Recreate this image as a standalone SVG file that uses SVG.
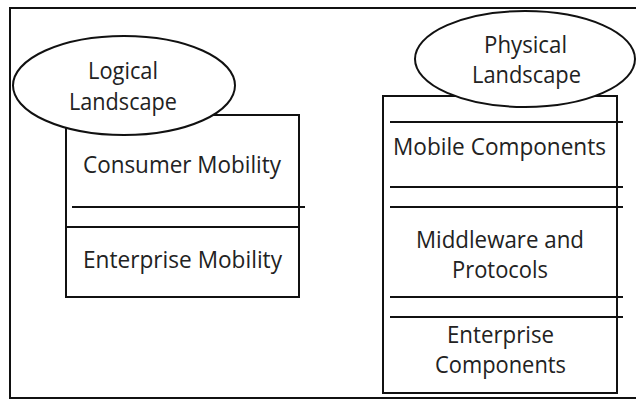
<svg xmlns="http://www.w3.org/2000/svg" width="636" height="400" viewBox="0 0 636 400">
<style>
.s{fill:none;stroke:#111;stroke-width:2}
.e{fill:#fff;stroke:#111;stroke-width:2}
.b{fill:#fff;stroke:#111;stroke-width:2}
text{font-family:"Open Sans","Liberation Sans",sans-serif;font-size:23px;fill:#222;text-anchor:middle}
</style>
<rect width="636" height="400" fill="#fff"/>
<g id="frame">
<path class="s" d="M636 8 H10 V398 H636"/>
</g>
<g id="logical">
<rect class="b" x="66" y="115" width="233" height="182"/>
<line class="s" x1="66" y1="227" x2="299" y2="227"/>
<ellipse class="e" cx="124" cy="85.5" rx="111" ry="49.5"/>
<text x="123" y="79" textLength="70" lengthAdjust="spacingAndGlyphs">Logical</text>
<text x="123" y="110" textLength="108" lengthAdjust="spacingAndGlyphs">Landscape</text>
<text x="182" y="173" textLength="198" lengthAdjust="spacingAndGlyphs">Consumer Mobility</text>
<text x="182.5" y="268" textLength="199" lengthAdjust="spacingAndGlyphs">Enterprise Mobility</text>
</g>
<g id="physical">
<rect class="b" x="383" y="96" width="234" height="297"/>
<ellipse class="e" cx="525" cy="59" rx="110" ry="48"/>
<text x="525.5" y="53" textLength="83" lengthAdjust="spacingAndGlyphs">Physical</text>
<text x="526.5" y="83" textLength="109" lengthAdjust="spacingAndGlyphs">Landscape</text>
<text x="499.5" y="155" textLength="213" lengthAdjust="spacingAndGlyphs">Mobile Components</text>
<text x="500" y="248" textLength="168" lengthAdjust="spacingAndGlyphs">Middleware and</text>
<text x="500" y="278" textLength="96" lengthAdjust="spacingAndGlyphs">Protocols</text>
<text x="500.5" y="343" textLength="107" lengthAdjust="spacingAndGlyphs">Enterprise</text>
<text x="500.5" y="373" textLength="131" lengthAdjust="spacingAndGlyphs">Components</text>
</g>
<g id="connectors">
<line class="s" x1="72" y1="207" x2="305" y2="207"/>
<line class="s" x1="390" y1="122" x2="623" y2="122"/>
<line class="s" x1="390" y1="187" x2="623" y2="187"/>
<line class="s" x1="390" y1="207" x2="623" y2="207"/>
<line class="s" x1="390" y1="297" x2="623" y2="297"/>
<line class="s" x1="390" y1="317" x2="623" y2="317"/>
</g>
</svg>
